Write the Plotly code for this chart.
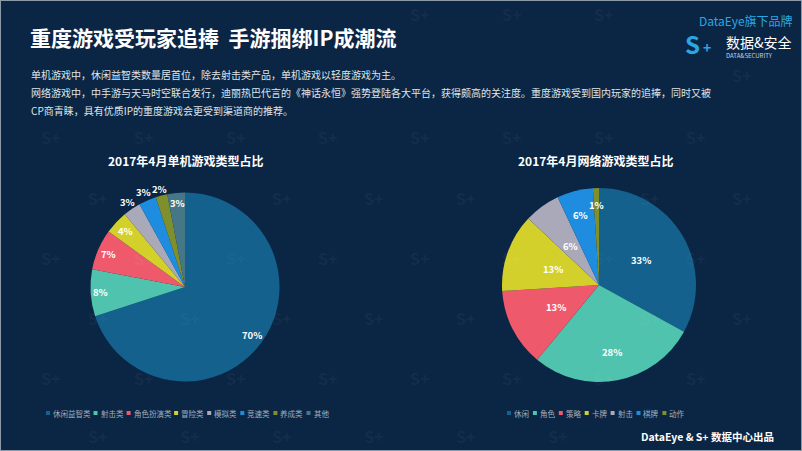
import math
import plotly.graph_objects as go

W, H = 802, 451

# ---------------- data ----------------
left_title = "2017年4月单机游戏类型占比"
left_labels = ["休闲益智类", "射击类", "角色扮演类", "冒险类", "模拟类", "竞速类", "养成类", "其他"]
left_values = [70, 8, 7, 4, 3, 3, 2, 3]

right_title = "2017年4月网络游戏类型占比"
right_labels = ["休闲", "角色", "策略", "卡牌", "射击", "棋牌", "动作"]
right_values = [33, 28, 13, 13, 6, 6, 1]

# ---------------- styles ----------------
BG = "#0b2644"
left_colors = ["#13618c", "#4fc3ae", "#ee5a6c", "#d3d02b", "#a9a9b9", "#1f8ddf", "#7f8f2c", "#467786"]
right_colors = ["#13618c", "#4fc3ae", "#ee5a6c", "#d3d02b", "#a9a9b9", "#1f8ddf", "#7f8f2c"]
left_label_r = [0.87, 0.90, 0.88, 0.87, 1.09, 1.10, 1.07, 0.89]
right_label_r = [0.50, 0.70, 0.50, 0.50, 0.50, 0.75, 0.82]
FONT = "Noto Sans CJK SC, Noto Sans, sans-serif"

# pie geometry (pixels)
L_CX, L_CY, L_R = 185, 287, 94.5
R_CX, R_CY, R_R = 599, 285, 97


def px(x):
    return x / W


def py(y):
    return 1 - y / H


def domain(cx, cy, r):
    return dict(x=[px(cx - r), px(cx + r)], y=[py(cy + r), py(cy - r)])


annotations = []
shapes = []
boxes = []  # pixel bboxes of real texts (to keep watermarks clear of them)


def text(x, y, s, size, color, xanchor="left", weight="normal", box=None):
    annotations.append(dict(x=px(x), y=py(y), xref="paper", yref="paper", text=s,
                            showarrow=False, xanchor=xanchor, yanchor="middle",
                            font=dict(family=FONT, size=size, color=color, weight=weight)))
    if box:
        boxes.append(box)


fig = go.Figure()
fig.add_trace(go.Pie(labels=left_labels, values=left_values, sort=False, direction="clockwise",
                     rotation=0, marker=dict(colors=left_colors, line=dict(width=0)),
                     textinfo="none", hoverinfo="label+percent", showlegend=False,
                     domain=domain(L_CX, L_CY, L_R)))
fig.add_trace(go.Pie(labels=right_labels, values=right_values, sort=False, direction="clockwise",
                     rotation=0, marker=dict(colors=right_colors, line=dict(width=0)),
                     textinfo="none", hoverinfo="label+percent", showlegend=False,
                     domain=domain(R_CX, R_CY, R_R)))


def pie_labels(values, cx, cy, r, fracs):
    total = sum(values)
    acc = 0
    for v, f in zip(values, fracs):
        mid = (acc + v / 2) / total * 2 * math.pi
        acc += v
        d = r * f
        x = cx + d * math.sin(mid)
        y = cy - d * math.cos(mid)
        text(x, y, f"{v}%", 9.5, "#ffffff", xanchor="center", weight="bold",
             box=(x - 12, y - 7, x + 12, y + 7))


pie_labels(left_values, L_CX, L_CY, L_R, left_label_r)
pie_labels(right_values, R_CX, R_CY, R_R, right_label_r)


def legend(labels, colors, x0, y):
    x = x0
    for lab, c in zip(labels, colors):
        shapes.append(dict(type="rect", xref="paper", yref="paper", x0=px(x), x1=px(x + 4),
                           y0=py(y + 2), y1=py(y - 2), fillcolor=c, line=dict(width=0)))
        w = len(lab) * 7.2
        text(x + 5, y, lab, 7.5, "#a3aebd", box=(x, y - 6, x + 5 + w, y + 6))
        x += 5 + w + 6.5


legend(left_labels, left_colors, 46, 413)
legend(right_labels, right_colors, 507, 413)

# titles
text(185, 161, left_title, 12, "#ffffff", xanchor="center", weight="bold", box=(106, 152, 264, 170))
text(595, 161, right_title, 12, "#ffffff", xanchor="center", weight="bold", box=(516, 152, 674, 170))

text(28, 37, "重度游戏受玩家追捧  手游捆绑IP成潮流", 21, "#ffffff", weight="bold",
     box=(26, 24, 402, 51))

para = [
    "单机游戏中，休闲益智类数量居首位，除去射击类产品，单机游戏以轻度游戏为主。",
    "网络游戏中，中手游与天马时空联合发行，迪丽热巴代言的《神话永恒》强势登陆各大平台，获得颇高的关注度。重度游戏受到国内玩家的追捧，同时又被",
    "CP商青睐，具有优质IP的重度游戏会更受到渠道商的推荐。",
]
para_w = [372, 686, 268]
for i, line in enumerate(para):
    yy = 75 + 18 * i
    text(29, yy, line, 10, "#dfe4ea", box=(27, yy - 8, 29 + para_w[i], yy + 8))

# logo
text(795, 21, "DataEye旗下品牌", 12, "#2aa7e2", xanchor="right", box=(676, 8, 802, 64))
text(683, 44, "<b>S</b>", 24, "#2aa7e2")
text(701, 47, "<b>+</b>", 14, "#2aa7e2")
text(724, 42, "数据&安全", 14, "#ffffff")
text(724, 56, "DATA&SECURITY", 6, "#c9d2dc")

text(776, 436, "DataEye & S+ 数据中心出品", 10.5, "#ffffff", xanchor="right", weight="bold",
     box=(640, 428, 780, 445))

# faint "S+" watermark tiles (background decoration)
WM = "rgba(255,255,255,0.05)"
row_ys = [14, 75, 137, 198, 258, 318, 378, 436]
for row, yy in enumerate(row_ys):
    x0 = 51 if row % 2 == 0 else 5
    xx = x0
    while xx < 802:
        b = (xx - 13, yy - 10, xx + 13, yy + 10)
        inside = b[0] > 3 and b[2] < W - 3 and b[1] > 2 and b[3] < H - 2
        clash = any(not (b[2] < t[0] or b[0] > t[2] or b[3] < t[1] or b[1] > t[3]) for t in boxes)
        if inside and not clash:
            annotations.insert(0, dict(x=px(xx), y=py(yy), xref="paper", yref="paper", text="<b>S+</b>",
                                       showarrow=False, xanchor="center", yanchor="middle",
                                       font=dict(family=FONT, size=16, color=WM)))
        xx += 92

# frame
shapes.append(dict(type="rect", xref="paper", yref="paper", x0=0, x1=1, y0=0, y1=1,
                   line=dict(color="#8d9aa8", width=2)))

fig.update_layout(width=W, height=H, margin=dict(l=0, r=0, t=0, b=0),
                  paper_bgcolor=BG, plot_bgcolor=BG,
                  annotations=annotations, shapes=shapes)

fig.write_html("out.html", config={"displayModeBar": False})
